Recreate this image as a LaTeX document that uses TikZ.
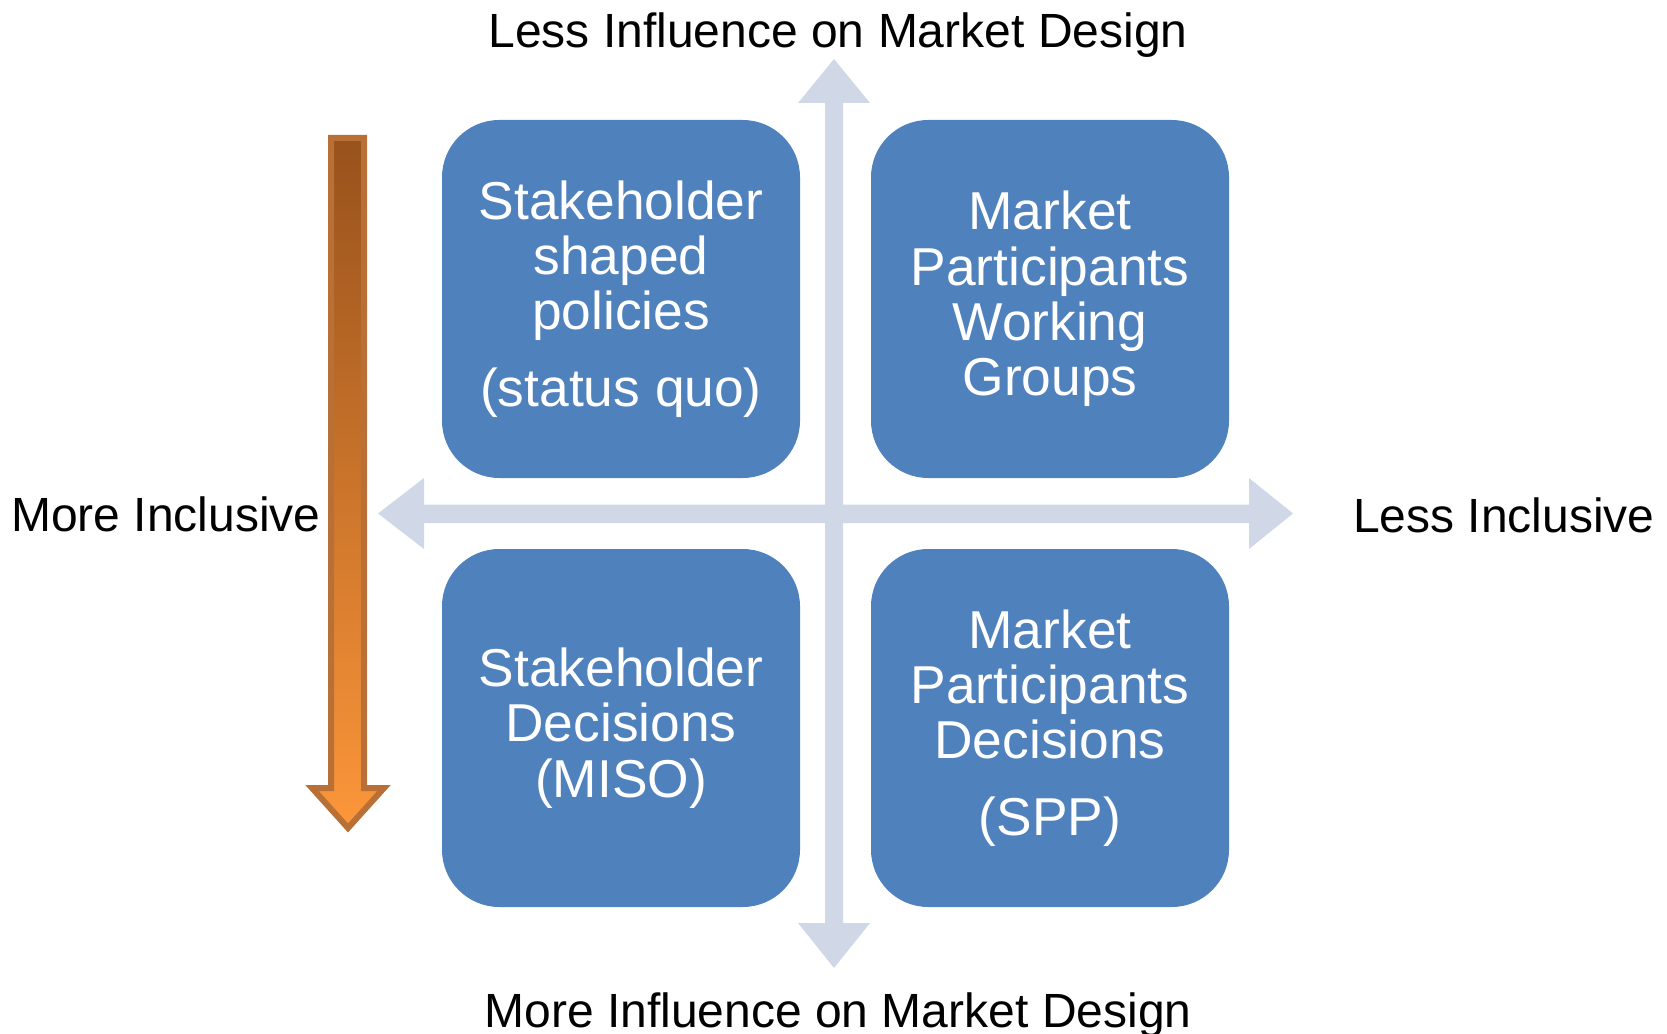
\documentclass[tikz,border=0pt]{standalone}
\usepackage{fontspec}
\setmainfont{Liberation Sans}
\definecolor{boxblue}{RGB}{79,129,189}
\definecolor{axisblue}{RGB}{208,216,232}
\definecolor{arrowedge}{RGB}{185,112,55}
\definecolor{arrowtop}{RGB}{152,82,28}
\definecolor{arrowbot}{RGB}{252,150,58}
\tikzset{
  quadbox/.style={fill=boxblue, draw=none, rounded corners=43pt, minimum width=268.5pt, minimum height=268.5pt, inner sep=0pt, text=white, align=center, font={\fontsize{40}{41.4}\selectfont}},
  axislabel/.style={inner sep=0pt, text=black, font={\fontsize{36}{40}\selectfont}},
  axisfill/.style={fill=axisblue, draw=none},
}
\begin{document}
\begin{tikzpicture}[x=0.75pt,y=-0.75pt]
\useasboundingbox (0,0) rectangle (1667,1034);
% axes
\fill[axisfill] (825,103) -- (798,103) -- (834,59) -- (870,103) -- (843,103) -- (843,923) -- (870,923) -- (834,968) -- (798,923) -- (825,923) -- cycle;
\fill[axisfill] (424,504.5) -- (424,478) -- (378,513.5) -- (424,549) -- (424,523) -- (1249,523) -- (1249,549) -- (1293,513.5) -- (1249,478) -- (1249,504.5) -- cycle;
% boxes
\node[quadbox] (tl) at (621,299) {Stakeholder\\shaped\\policies\\[16pt](status quo)};
\node[quadbox] (tr) at (1050,299) {Market\\Participants\\Working\\Groups};
\node[quadbox] (bl) at (621,728) {Stakeholder\\Decisions\\(MISO)};
\node[quadbox] (br) at (1050,728) {Market\\Participants\\Decisions\\[16pt](SPP)};
% labels
\node[axislabel, anchor=base] (top) at (838,47.5) {Less Influence on Market Design};
\node[axislabel, anchor=base] (bottom) at (838,1027) {More Influence on Market Design};
\node[axislabel, anchor=base] (left) at (166,531) {More Inclusive};
\node[axislabel, anchor=base] (right) at (1504,532) {Less Inclusive};
% orange arrow
\draw[draw=arrowedge, line width=4.5pt, line join=miter, top color=arrowtop, bottom color=arrowbot]
  (331,138) -- (364,138) -- (364,788) -- (384,788) -- (348,828) -- (312,788) -- (331,788) -- cycle;
\end{tikzpicture}
\end{document}
